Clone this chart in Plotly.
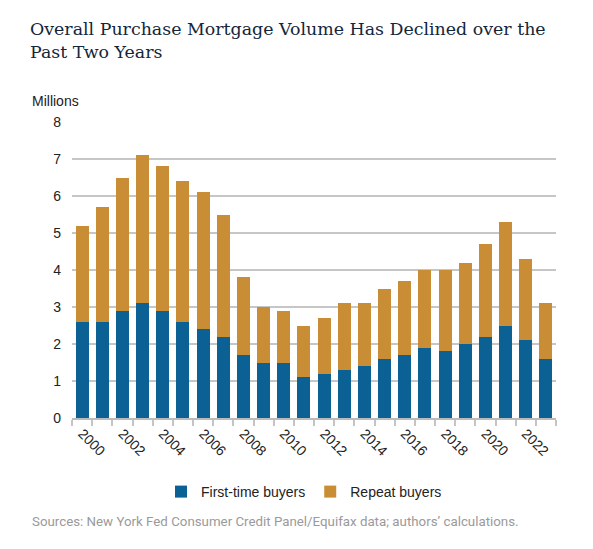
import plotly.graph_objects as go

years = list(range(2000, 2024))
first_time = [2.6, 2.6, 2.9, 3.1, 2.9, 2.6, 2.4, 2.2, 1.7, 1.5, 1.5, 1.1,
              1.2, 1.3, 1.4, 1.6, 1.7, 1.9, 1.8, 2.0, 2.2, 2.5, 2.1, 1.6]
repeat = [2.6, 3.1, 3.6, 4.0, 3.9, 3.8, 3.7, 3.3, 2.1, 1.5, 1.4, 1.4,
          1.5, 1.8, 1.7, 1.9, 2.0, 2.1, 2.2, 2.2, 2.5, 2.8, 2.2, 1.5]
y_ticks = [0, 1, 2, 3, 4, 5, 6, 7, 8]

BLUE = "#0b6194"
ORANGE = "#c98e35"

# page body has an 8px default margin; the figure is sized to fit the window
OFF = 8
W, H = 593 - OFF, 549 - OFF
# plot area in window pixels: x 72..556, y 122..418
L, R, T, B = 72 - OFF, 593 - 556, 122 - OFF, 549 - 418
PW, PH = W - L - R, H - T - B

fig = go.Figure()
fig.add_trace(go.Bar(x=years, y=first_time, name="First-time buyers",
                     marker=dict(color=BLUE, line=dict(width=0)), width=0.64))
fig.add_trace(go.Bar(x=years, y=repeat, name="Repeat buyers",
                     marker=dict(color=ORANGE, line=dict(width=0)), width=0.64))

fig.update_layout(
    barmode="stack",
    width=W, height=H,
    margin=dict(l=L, r=R, t=T, b=B, autoexpand=False),
    paper_bgcolor="white", plot_bgcolor="white",
    font=dict(family="Liberation Sans, Arial, sans-serif", size=14, color="#222222"),
    title=dict(
        text="Overall Purchase Mortgage Volume Has Declined over the<br>Past Two Years",
        font=dict(family="DejaVu Serif, Georgia, serif", size=17.4, color="#14263a"),
        xref="container", yref="container",
        x=(30 - OFF) / W, xanchor="left",
        y=1 - 27 / H, yanchor="top",
    ),
    xaxis=dict(
        type="linear",
        range=[1999.5, 2023.5],
        tickmode="linear", tick0=2000, dtick=2,
        ticks="", tickangle=45,
        tickfont=dict(size=14, color="#222222"),
        showgrid=False, zeroline=False,
        showline=True, linecolor="#bbbbbb", linewidth=2,
        minor=dict(ticks="outside", tick0=1999.5, dtick=1, ticklen=6,
                   tickcolor="#c4c4c4", tickwidth=1.5, showgrid=False),
        fixedrange=True,
    ),
    yaxis=dict(
        range=[0, 8],
        tickmode="array", tickvals=y_ticks,
        ticks="", ticklabelstandoff=10,
        showgrid=True, gridcolor="#c6c6c6", gridwidth=1.6,
        zeroline=False, showline=False,
        tickfont=dict(size=14, color="#222222"),
    ),
    legend=dict(
        orientation="h",
        xref="container", yref="container",
        x=(304 - OFF) / W, xanchor="center",
        y=1 - (492 - OFF) / H, yanchor="middle",
        font=dict(size=14, color="#222222"),
        traceorder="normal",
    ),
    bargap=0.36,
)

fig.add_annotation(
    text="Millions", xref="paper", yref="paper",
    x=(30 - 72) / PW, y=(418 - 101) / PH,
    xanchor="left", yanchor="middle", showarrow=False,
    font=dict(family="Liberation Sans, Arial, sans-serif", size=14, color="#222222"),
)
fig.add_annotation(
    text="Sources: New York Fed Consumer Credit Panel/Equifax data; authors\u2019 calculations.",
    xref="paper", yref="paper",
    x=(30 - 72) / PW, y=(418 - 521) / PH,
    xanchor="left", yanchor="middle", showarrow=False,
    font=dict(family="Roboto, sans-serif", size=13.3, color="#9a9a9a"),
)

fig.write_html("out.html")
